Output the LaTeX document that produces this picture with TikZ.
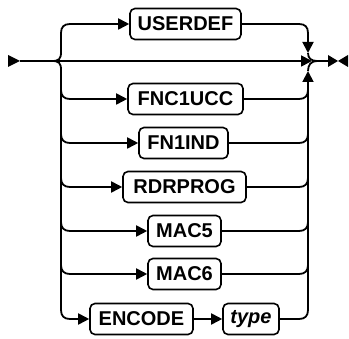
\documentclass[tikz,border=0pt]{standalone}
\usepackage{fontspec}
\setmainfont{Liberation Sans}
\usetikzlibrary{arrows.meta}
\begin{document}
\begin{tikzpicture}[x=1pt,y=-1pt,line width=1.8pt,
  box/.style={draw,line width=1.6pt,rounded corners=5pt,minimum height=31pt,inner sep=0pt,
    font=\fontsize{20}{22}\selectfont\bfseries,anchor=center},
  arr/.style={-{Triangle[length=11pt,width=11pt]}}]
\useasboundingbox (0,0) rectangle (349,339);
% boxes
\node[box,minimum width=111pt] (userdef) at (185.5,24) {USERDEF};
\node[box,minimum width=115pt] (fnc) at (185.5,99) {FNC1UCC};
\node[box,minimum width=89pt] (fn1) at (183.5,143) {FN1IND};
\node[box,minimum width=123pt] (rdr) at (184.5,187) {RDRPROG};
\node[box,minimum width=73pt] (mac5) at (184.5,231) {MAC5};
\node[box,minimum width=73pt] (mac6) at (184.5,274) {MAC6};
\node[box,minimum width=103pt] (encode) at (141.5,319) {ENCODE};
\node[box,minimum width=56pt] (type) at (251,319) {\itshape type};
% coordinates
\coordinate (start) at (20,61);
\coordinate (ls) at (52,61);
\coordinate (mtip) at (312,61);
\coordinate (mend) at (328,61);
\coordinate (dtip) at (308,53);
\coordinate (utip) at (308,71);
% start / end symbols
\fill (8,55) -- (start) -- (8,67) -- cycle;
\fill (328,55) -- (338,61) -- (328,67) -- cycle;
\fill (348,55) -- (338,61) -- (348,67) -- cycle;
% main line
\draw[arr] (start) -- (mtip);
\draw (mtip) -- (mend);
% left splits
\draw[arr] (ls) .. controls (59,61) and (61,59) .. (61,52) -- (61,33)
  .. controls (61,27) and (64,24) .. (70,24) -- (userdef.west);
\draw[arr] (ls) .. controls (59,61) and (61,63) .. (61,70) -- (61,310)
  .. controls (61,316) and (64,319) .. (70,319) -- (encode.west);
\foreach \n/\r in {fnc/99,fn1/143,rdr/187,mac5/231,mac6/274}{
  \draw[arr] (61,\r-9) .. controls (61,\r-3) and (64,\r) .. (70,\r) -- (\n.west);
}
\draw[arr] (encode.east) -- (type.west);
% right merges
\draw[arr] (userdef.east) -- (299,24) .. controls (305,24) and (308,27) .. (308,33) -- (dtip);
\draw (dtip) .. controls (308,58) and (311,61) .. (317,61);
\foreach \n/\r in {fnc/99,fn1/143,rdr/187,mac5/231,mac6/274,type/319}{
  \draw (\n.east) -- (299,\r) .. controls (305,\r) and (308,\r-3) .. (308,\r-9);
}
\draw[arr] (308,310) -- (utip);
\draw (utip) .. controls (308,65) and (311,61) .. (317,61);
\end{tikzpicture}
\end{document}
